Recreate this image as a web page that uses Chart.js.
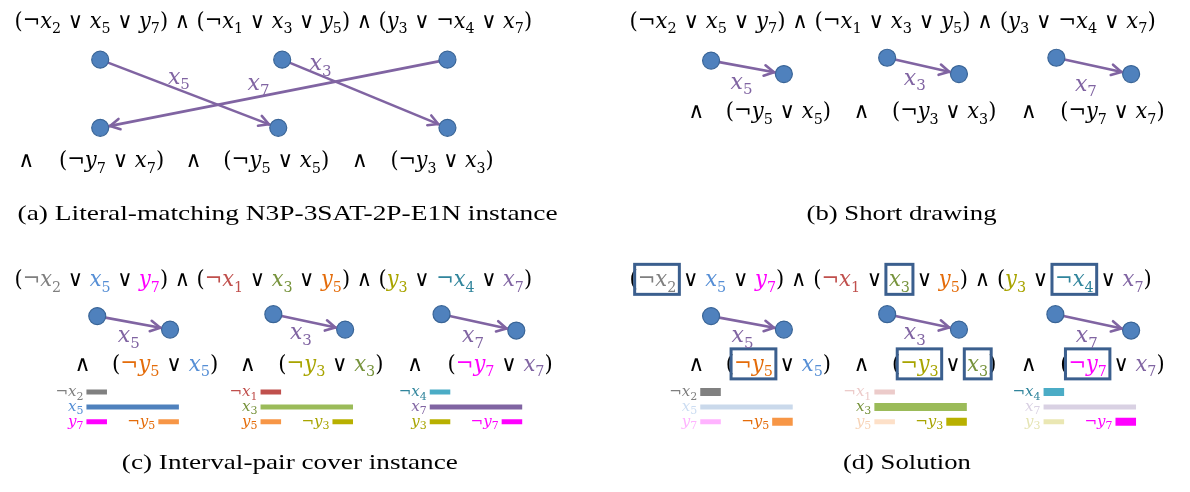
<!DOCTYPE html>
<html>
<head>
<meta charset="utf-8">
<script src="https://cdn.jsdelivr.net/npm/chart.js@4.4.1/dist/chart.umd.min.js"></script>
<style>
  html, body { margin: 0; padding: 0; background: #fff; }
  canvas { display: block; }
</style>
</head>
<body>
<canvas id="fig" width="1190" height="492"></canvas>
<script>
// ---- data ----
const clauses3 = [['¬x2', 'x5', 'y7'], ['¬x1', 'x3', 'y5'], ['y3', '¬x4', 'x7']];
const clauses2a = [['¬y7', 'x7'], ['¬y5', 'x5'], ['¬y3', 'x3']];   // order used in (a)
const clauses2 = [['¬y5', 'x5'], ['¬y3', 'x3'], ['¬y7', 'x7']];    // order used in (b)-(d)
const edgeVars = ['x5', 'x3', 'x7'];
const edgeTargetA = [1, 2, 0];   // (a): top node i -> bottom node edgeTargetA[i]

// interval pairs, one group per 3-clause
const intervalLits = [['¬x2', 'x5', 'y7', '¬y5'], ['¬x1', 'x3', 'y5', '¬y3'], ['¬x4', 'x7', 'y3', '¬y7']];
const intervalRows = [0, 1, 2, 2];
const intervalStart = [0, 0, 0, 7];
const intervalEnd = [2, 9, 2, 9];

// literals picked in the solution (d)
const chosen = ['¬x2', 'x3', '¬x4', '¬y5', '¬y3', '¬y7'];

const captions = ['(a) Literal-matching N3P-3SAT-2P-E1N instance', '(b) Short drawing',
                  '(c) Interval-pair cover instance', '(d) Solution'];

// ---- colours ----
const textColors = {
  '¬x2': '#7f7f7f', 'x5': '#558ed5', 'y7': '#ff00ff',
  '¬x1': '#c0504d', 'x3': '#77933c', 'y5': '#e46c0a',
  'y3': '#a8a400', '¬x4': '#31859c', 'x7': '#8064a2',
  '¬y5': '#e46c0a', '¬y3': '#a8a400', '¬y7': '#ff00ff'
};
const barColors = {
  '¬x2': '#808080', 'x5': '#4f81bd', 'y7': '#ff00ff', '¬y5': '#f79646',
  '¬x1': '#c0504d', 'x3': '#9bbb59', 'y5': '#f79646', '¬y3': '#b8b000',
  '¬x4': '#4bacc6', 'x7': '#8064a2', 'y3': '#b8b000', '¬y7': '#ff00ff'
};
const purple = '#8064a2';
const nodeFill = '#4f81bd';
const boxColor = '#3b5f8e';

// ---- layout (figure pixels) ----
const W = 1190, H = 492;
const layout = {
  a: {
    formula: [5, 531, 19],
    ands: [17, 187, 356], spans: [[50, 157], [217, 325], [387, 492]], base: 164,
    top: [[92, 52], [277, 52], [445, 52]], bot: [[92, 123], [273, 123], [445, 123]],
    labels: [[172, 71], [316, 57], [253, 77]]
  },
  b: {
    formula: [630, 1165, 19],
    ands: [698, 866, 1036], spans: [[728, 835], [897, 1003], [1068, 1174]], base: 113,
    tails: [[713, 53], [892, 50], [1064, 50]], heads: [[787, 67], [965, 67], [1140, 67]],
    labels: [[744, 76], [920, 72], [1094, 78]]
  },
  c: {
    formula: [5, 531, 288],
    ands: [74, 242, 412], spans: [[104, 212], [273, 380], [445, 552]], base: 376,
    tails: [[89, 319], [268, 317], [439, 317]], heads: [[163, 333], [341, 333], [515, 334]],
    labels: [[121, 340], [296, 337], [471, 340]]
  },
  d: {
    formula: [630, 1161, 288],
    ands: [698, 866, 1036], spans: [[728, 835], [897, 1003], [1068, 1174]], base: 376,
    tails: [[713, 319], [892, 317], [1063, 317]], heads: [[787, 333], [965, 333], [1140, 334]],
    labels: [[745, 340], [920, 337], [1095, 340]]
  }
};
const captionPos = [[8, 548, 219], [810, 1000, 219], [114, 450, 478], [847, 975, 478]];
const groupOrigins = [78, 255, 427, 702, 879, 1051];   // (c) groups then (d) groups
const unitPx = 94 / 9;
const rowTop = 398, rowPitch = 15.5;
const nodeR = 8.5;
const mathSize = 22;

// ---- datasets ----
const nodePts = [];
const edgeSets = [];
layout.a.top.forEach(p => nodePts.push({ x: p[0], y: p[1] }));
layout.a.bot.forEach(p => nodePts.push({ x: p[0], y: p[1] }));
layout.a.top.forEach((p, i) => {
  const q = layout.a.bot[edgeTargetA[i]];
  edgeSets.push([{ x: p[0], y: p[1] }, { x: q[0], y: q[1] }]);
});
['b', 'c', 'd'].forEach(k => {
  layout[k].tails.forEach((p, i) => {
    const q = layout[k].heads[i];
    nodePts.push({ x: p[0], y: p[1] }, { x: q[0], y: q[1] });
    edgeSets.push([{ x: p[0], y: p[1] }, { x: q[0], y: q[1] }]);
  });
});

function fade(hex, a) {
  const n = parseInt(hex.slice(1), 16);
  const ch = [n >> 16, (n >> 8) & 255, n & 255].map(c => Math.round(c * a + 255 * (1 - a)));
  return 'rgb(' + ch.join(',') + ')';
}

const datasets = [{
  data: nodePts, showLine: false, pointRadius: nodeR, pointHoverRadius: nodeR,
  pointBackgroundColor: nodeFill, pointBorderColor: '#3a6597', pointBorderWidth: 1.2
}];
edgeSets.forEach(e => datasets.push({
  data: e, showLine: true, borderColor: purple, borderWidth: 2.6, pointRadius: 0, arrow: true
}));
// interval bars: groups 0-2 in (c), 3-5 in (d)
for (let g = 0; g < 6; g++) {
  const lits = intervalLits[g % 3];
  lits.forEach((lit, k) => {
    const solved = g >= 3;
    const pick = chosen.includes(lit);
    datasets.push({
      data: [{ x: intervalStart[k], y: intervalRows[k] }, { x: intervalEnd[k], y: intervalRows[k] }],
      xAxisID: 'g' + g, yAxisID: 'rows', showLine: true, pointRadius: 0,
      borderCapStyle: 'butt',
      borderColor: solved && !pick ? fade(barColors[lit], 0.3) : barColors[lit],
      borderWidth: solved && pick ? 8 : 5,
      lit: lit, faded: solved && !pick
    });
  });
}

const scales = {
  x: { type: 'linear', min: 0, max: W, display: false },
  y: { type: 'linear', min: 0, max: H, reverse: true, display: false },
  rows: { type: 'linear', axis: 'y', min: -rowTop / rowPitch, max: (H - rowTop) / rowPitch, reverse: true, display: false }
};
groupOrigins.forEach((o, g) => {
  scales['g' + g] = { type: 'linear', axis: 'x', min: -o / unitPx, max: (W - o) / unitPx, display: false };
});

// ---- rich math text ----
function pieces(str) {
  const out = [];
  let i = 0;
  while (i < str.length) {
    const m = /^(¬?)([xy])(\d)/.exec(str.slice(i));
    if (m) {
      out.push({ lit: m[0], parts: [[m[1], 'up'], [m[2], 'it'], [m[3], 'sub']].filter(q => q[0]) });
      i += m[0].length;
    } else {
      out.push({ lit: null, parts: [[str[i], 'up']] });
      i++;
    }
  }
  return out;
}
function fontOf(kind, size) {
  if (kind === 'it') return 'italic ' + size + 'px "DejaVu Serif"';
  if (kind === 'sub') return Math.round(size * 0.7) + 'px "DejaVu Serif"';
  return size + 'px "DejaVu Serif"';
}
function drawRich(ctx, str, x, base, size, opts) {
  const ps = pieces(str);
  let w = 0;
  ps.forEach(p => {
    p.x0 = w;
    p.parts.forEach(q => { ctx.font = fontOf(q[1], size); q.w = ctx.measureText(q[0]).width; w += q.w; });
    p.x1 = w;
  });
  let k = 1, left = x;
  if (opts.x1 != null) k = (opts.x1 - x) / w;
  else if (opts.align === 'center') left = x - w / 2;
  else if (opts.align === 'right') left = x - w;
  ctx.save();
  ctx.translate(left, base);
  ctx.scale(k, 1);
  ctx.textAlign = 'left';
  ctx.textBaseline = 'alphabetic';
  ps.forEach(p => {
    ctx.fillStyle = p.lit && opts.color ? opts.color(p.lit) : (opts.ink || '#000');
    let cx = p.x0;
    p.parts.forEach(q => {
      ctx.font = fontOf(q[1], size);
      ctx.fillText(q[0], cx, q[1] === 'sub' ? size * 0.24 : 0);
      cx += q.w;
    });
  });
  ctx.restore();
  if (opts.boxes) {
    ctx.save();
    ctx.strokeStyle = boxColor;
    ctx.lineWidth = 3;
    ps.forEach(p => {
      if (!p.lit || !opts.boxes.includes(p.lit)) return;
      const bx0 = left + p.x0 * k - 3, bx1 = left + p.x1 * k + 3;
      ctx.strokeRect(bx0, base - 22, bx1 - bx0, 30);
    });
    ctx.restore();
  }
}
const clauseStr = c => '(' + c.join(' ∨ ') + ')';

const figurePlugin = {
  id: 'figure',
  afterDatasetsDraw(chart) {
    const ctx = chart.ctx;
    const sx = chart.scales.x, sy = chart.scales.y;
    const X = v => sx.getPixelForValue(v), Y = v => sy.getPixelForValue(v);

    // arrow heads
    chart.data.datasets.forEach((ds, i) => {
      if (!ds.arrow) return;
      const pts = chart.getDatasetMeta(i).data;
      const a = pts[0], b = pts[1];
      const dx = b.x - a.x, dy = b.y - a.y, len = Math.hypot(dx, dy);
      const ux = dx / len, uy = dy / len;
      const tx = b.x - ux * (nodeR + 1.5), ty = b.y - uy * (nodeR + 1.5);
      const hl = 11, ang = 0.5;
      ctx.save();
      ctx.strokeStyle = purple;
      ctx.lineWidth = 2.6;
      ctx.lineCap = 'round';
      ctx.lineJoin = 'round';
      ctx.beginPath();
      [ang, -ang].forEach(s => {
        const c = Math.cos(s), n = Math.sin(s);
        const rx = ux * c - uy * n, ry = ux * n + uy * c;
        ctx.moveTo(tx - rx * hl, ty - ry * hl);
        ctx.lineTo(tx, ty);
      });
      ctx.stroke();
      ctx.restore();
    });

    // interval labels
    chart.data.datasets.forEach((ds, i) => {
      if (!ds.lit) return;
      const xs = chart.scales[ds.xAxisID], ys = chart.scales[ds.yAxisID];
      const px = xs.getPixelForValue(ds.data[0].x) - 3;
      const py = ys.getPixelForValue(ds.data[0].y);
      const col = ds.faded ? fade(textColors[ds.lit], 0.3) : textColors[ds.lit];
      drawRich(ctx, ds.lit, px, py + 4, 15, { align: 'right', color: () => col });
    });

    // formulas
    const colorFull = lit => textColors[lit] || '#000';
    ['a', 'b', 'c', 'd'].forEach(k => {
      const L = layout[k];
      const colored = k === 'c' || k === 'd';
      const top = clauses3.map(clauseStr).join(' ∧ ');
      drawRich(ctx, top, X(L.formula[0]), Y(L.formula[2]), mathSize, {
        x1: X(L.formula[1]), color: colored ? colorFull : null,
        boxes: k === 'd' ? chosen : null
      });
      const bottom = k === 'a' ? clauses2a : clauses2;
      bottom.forEach((c, i) => {
        drawRich(ctx, '∧', X(L.ands[i]), Y(L.base), mathSize, { align: 'center' });
        drawRich(ctx, clauseStr(c), X(L.spans[i][0]), Y(L.base), mathSize, {
          x1: X(L.spans[i][1]), color: colored ? colorFull : null,
          boxes: k === 'd' ? chosen : null
        });
      });
      edgeVars.forEach((v, i) => {
        const p = L.labels[i];
        drawRich(ctx, v, X(p[0]), Y(p[1]) + 6, mathSize, { align: 'center', color: () => purple });
      });
    });

    // captions
    ctx.save();
    ctx.fillStyle = '#000';
    ctx.textBaseline = 'alphabetic';
    captions.forEach((t, i) => {
      const c = captionPos[i];
      ctx.font = '22px "Liberation Serif"';
      const w = ctx.measureText(t).width;
      ctx.save();
      ctx.translate(X(c[0]), Y(c[2]));
      ctx.scale((c[1] - c[0]) / w, 1);
      ctx.fillText(t, 0, 0);
      ctx.restore();
    });
    ctx.restore();
  }
};

new Chart(document.getElementById('fig'), {
  type: 'scatter',
  data: { datasets: datasets },
  options: {
    responsive: false,
    maintainAspectRatio: false,
    animation: false,
    layout: { padding: 0 },
    scales: scales,
    plugins: { legend: { display: false }, tooltip: { enabled: false } },
    events: []
  },
  plugins: [figurePlugin]
});
</script>
</body>
</html>
